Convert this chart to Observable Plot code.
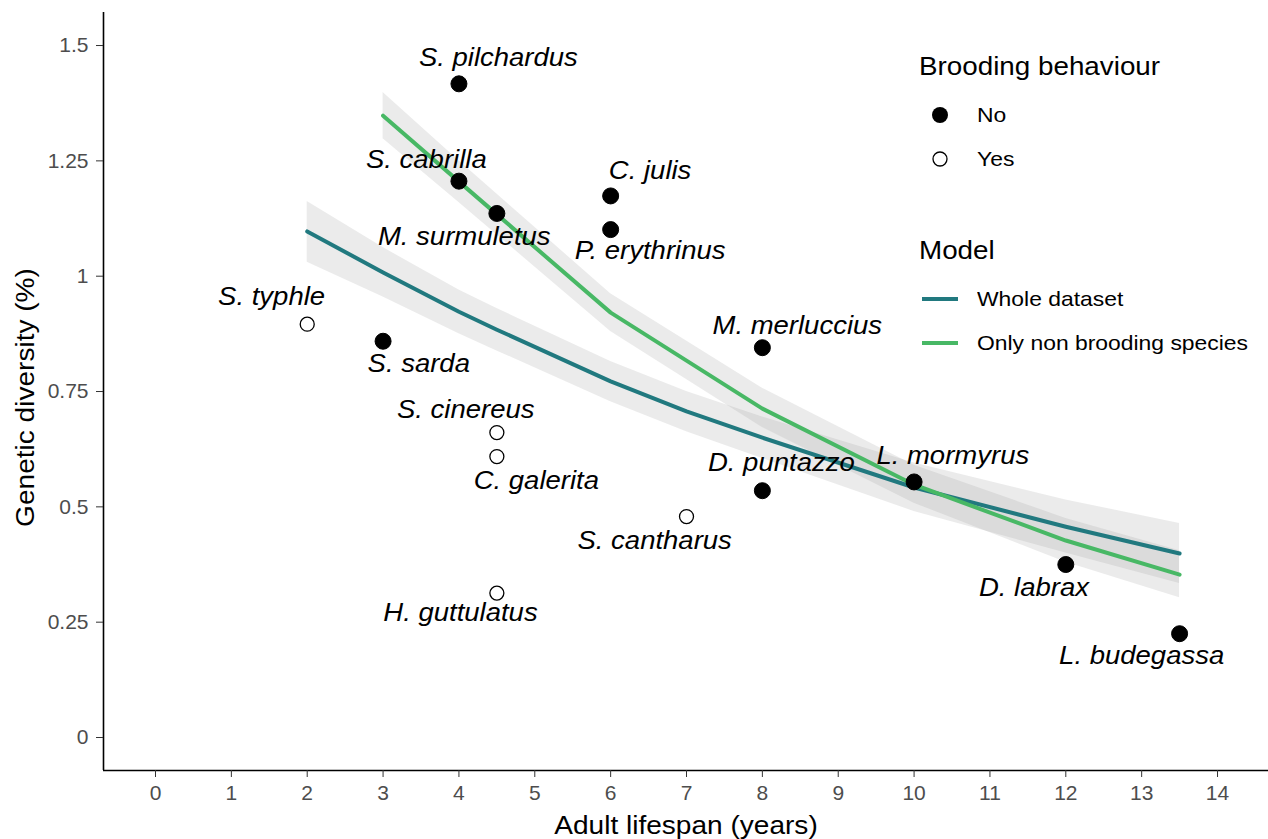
<!DOCTYPE html>
<html><head><meta charset="utf-8">
<script src="https://cdn.jsdelivr.net/npm/d3@7"></script>
<script src="https://cdn.jsdelivr.net/npm/@observablehq/plot@0.6"></script>
<style>
body{margin:0;background:#fff;font-family:"Liberation Sans",Arial,sans-serif;}
#wrap{position:relative;width:1268px;height:839px;overflow:hidden;}
#legend{position:absolute;left:919px;top:0;color:#000;}
.ltitle{position:absolute;left:0;font-size:25.5px;white-space:nowrap;line-height:1;transform:scaleX(1.09);transform-origin:left center;}
.litem{position:absolute;left:0;white-space:nowrap;font-size:21px;line-height:1;display:flex;align-items:center;}
.litem span{display:inline-block;transform:scaleX(1.09);transform-origin:left center;}
.litem svg{margin-right:18px;}
</style></head><body><div id="wrap"><div id="legend"></div></div>
<script>
// Observed data
const species   = ["S. pilchardus","S. cabrilla","M. surmuletus","C. julis","P. erythrinus","S. typhle","S. sarda","M. merluccius","S. cinereus","C. galerita","S. cantharus","D. puntazzo","L. mormyrus","D. labrax","L. budegassa","H. guttulatus"];
const lifespan  = [4, 4, 4.5, 6, 6, 2, 3, 8, 4.5, 4.5, 7, 8, 10, 12, 13.5, 4.5];
const diversity = [1.417, 1.206, 1.136, 1.174, 1.101, 0.896, 0.859, 0.845, 0.661, 0.609, 0.479, 0.535, 0.554, 0.375, 0.225, 0.313];
const brooding  = ["No","No","No","No","No","Yes","No","No","Yes","Yes","Yes","No","No","No","No","Yes"];
// label anchor (data units)
const labelX = [4.52, 3.57, 4.07, 6.52, 6.52, 1.53, 3.47, 8.46, 4.09, 5.02, 6.58, 8.25, 10.51, 11.58, 13.0, 4.02];
const labelY = [1.474, 1.251, 1.084, 1.229, 1.054, 0.954, 0.809, 0.893, 0.709, 0.557, 0.427, 0.594, 0.611, 0.325, 0.176, 0.269];

// Model: whole dataset
const wholeX   = [2, 3, 4, 4.5, 6, 7, 8, 10, 12, 13.5];
const wholeFit = [1.097, 1.008, 0.923, 0.884, 0.772, 0.707, 0.650, 0.542, 0.457, 0.399];
const wholeLo  = [1.030, 0.955, 0.875, 0.838, 0.728, 0.663, 0.605, 0.490, 0.400, 0.334];
const wholeHi  = [1.162, 1.062, 0.970, 0.930, 0.815, 0.750, 0.695, 0.595, 0.515, 0.464];
// Model: only non brooding species
const nbX   = [3, 4, 4.5, 6, 8, 10, 12, 13.5];
const nbFit = [1.348, 1.205, 1.134, 0.921, 0.713, 0.548, 0.427, 0.353];
const nbLo  = [1.298, 1.160, 1.090, 0.880, 0.672, 0.508, 0.380, 0.303];
const nbHi  = [1.398, 1.250, 1.178, 0.962, 0.757, 0.590, 0.475, 0.405];

const xTicks = [0,1,2,3,4,5,6,7,8,9,10,11,12,13,14];
const yTicks = [0, 0.25, 0.5, 0.75, 1, 1.25, 1.5];
const xDomain = [-0.6855, 14.672];
const yDomain = [-0.0715, 1.5716];
const modelNames = ["Whole dataset", "Only non brooding species"];
const modelColors = ["#21797F", "#48B865"];

const points = species.map((s,i)=>({name:s, x:lifespan[i], y:diversity[i], brood:brooding[i], lx:labelX[i], ly:labelY[i]}));
const whole = wholeX.map((x,i)=>({x, fit:wholeFit[i], lo:wholeLo[i], hi:wholeHi[i]}));
const nb = nbX.map((x,i)=>({x, fit:nbFit[i], lo:nbLo[i], hi:nbHi[i]}));

const chart = Plot.plot({
  width:1268, height:839,
  marginLeft:103, marginRight:0, marginTop:12, marginBottom:69,
  style:{fontFamily:"'Liberation Sans', Arial, sans-serif", background:"white"},
  x:{domain:xDomain},
  y:{domain:yDomain},
  marks:[
    Plot.areaY(whole, {x:"x", y1:"lo", y2:"hi", fill:"#999999", fillOpacity:0.2}),
    Plot.areaY(nb, {x:"x", y1:"lo", y2:"hi", fill:"#999999", fillOpacity:0.2}),
    Plot.line(whole, {x:"x", y:"fit", stroke:modelColors[0], strokeWidth:4}),
    Plot.line(nb, {x:"x", y:"fit", stroke:modelColors[1], strokeWidth:4}),
    Plot.dot(points.filter(d=>d.brood==="No"), {x:"x", y:"y", r:8, fill:"black", stroke:"black", strokeWidth:1}),
    Plot.dot(points.filter(d=>d.brood==="Yes"), {x:"x", y:"y", r:7, fill:"white", stroke:"black", strokeWidth:1.3}),
    Plot.text(points, {x:"lx", y:"ly", text:"name", fontStyle:"italic", fontSize:25, fill:"black", lineAnchor:"middle"}),
    Plot.ruleY([yDomain[0]], {stroke:"black", strokeWidth:1.6}),
    Plot.ruleX([xDomain[0]], {stroke:"black", strokeWidth:1.6}),
    Plot.axisX(xTicks, {tickSize:7, tickPadding:8, fontSize:21, color:"#4D4D4D", stroke:"#333", label:null, tickFormat:d=>String(d)}),
    Plot.axisY(yTicks, {tickSize:7, tickPadding:8, fontSize:21, color:"#4D4D4D", stroke:"#333", label:null, tickFormat:d=>String(d)}),
    Plot.text(["Adult lifespan (years)"], {frameAnchor:"bottom", dy:63, fontSize:25.5, fill:"black", textAnchor:"middle"}),
    Plot.text(["Genetic diversity (%)"], {frameAnchor:"left", dx:-78, dy:6, rotate:-90, fontSize:25.5, fill:"black", textAnchor:"middle", lineAnchor:"middle"})
  ]
});
document.getElementById("wrap").prepend(chart);
// widen glyphs of labels and titles (reference text is rendered ~10% wider)
chart.querySelectorAll('g[aria-label="text"] text').forEach(t=>{
  const len = t.getComputedTextLength();
  t.setAttribute("textLength", (len*1.1).toFixed(1));
  t.setAttribute("lengthAdjust", "spacingAndGlyphs");
});

// Legend
const lg = document.getElementById("legend");
function add(html){ lg.insertAdjacentHTML("beforeend", html); }
add(`<div class="ltitle" style="top:54px">Brooding behaviour</div>`);
add(`<div class="litem" style="top:104px"><svg width="40" height="20"><circle cx="21" cy="10" r="8" fill="black"/></svg><span>No</span></div>`);
add(`<div class="litem" style="top:148px"><svg width="40" height="20"><circle cx="21" cy="10" r="7" fill="white" stroke="black" stroke-width="1.3"/></svg><span>Yes</span></div>`);
add(`<div class="ltitle" style="top:238px">Model</div>`);
modelNames.forEach((m,i)=>{
  add(`<div class="litem" style="top:${288+44*i}px"><svg width="40" height="20"><line x1="3" x2="39" y1="10" y2="10" stroke="${modelColors[i]}" stroke-width="4"/></svg><span>${m}</span></div>`);
});
</script></body></html>
